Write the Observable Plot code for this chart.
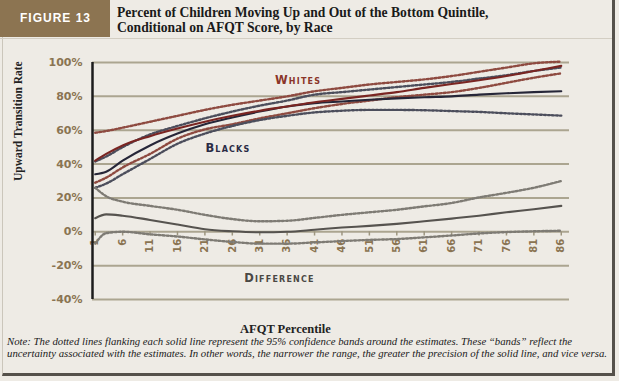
<!DOCTYPE html>
<html>
<head>
<meta charset="utf-8">
<script src="https://cdn.jsdelivr.net/npm/d3@7"></script>
<script src="https://cdn.jsdelivr.net/npm/@observablehq/plot@0.6"></script>
<style>
  body { margin: 0; background: #eeebe5; }
  #wrap { position: relative; width: 619px; height: 381px; background: #eeebe5; overflow: hidden; }
  #frame { position: absolute; left: 2px; top: -3px; width: 609px; height: 376px; border-left: 1px solid #cbc6bb; border-right: 3px solid #55514b; border-bottom: 3px solid #55514b; }
  #fig { position: absolute; left: 0; top: 0; width: 110px; height: 37px; background: #8c7451; color: #fff; font: bold 12px "Liberation Sans", Arial, sans-serif; letter-spacing: 1px; line-height: 37px; text-indent: 20px; }
  #hline { position: absolute; left: 0; top: 38px; width: 612px; height: 1px; background: #d3cec3; }
  #title { position: absolute; left: 117px; top: 6px; font: bold 13.6px "Liberation Serif", serif; line-height: 14.5px; color: #1a1a1a; }
  #chart { position: absolute; left: 0; top: 40px; }
  #xtitle { position: absolute; left: 240px; top: 322px; font: bold 12.5px "Liberation Serif", serif; color: #222; }
  #note { position: absolute; left: 7px; top: 336px; font: italic 10.75px "Liberation Serif", serif; line-height: 11.5px; color: #1a1a1a; white-space: nowrap; }
</style>
</head>
<body>
<div id="wrap">
  <div id="frame"></div>
  <div id="fig">FIGURE 13</div>
  <div id="hline"></div>
  <div id="title">Percent of Children Moving Up and Out of the Bottom Quintile,<br>Conditional on AFQT Score, by Race</div>
  <div id="chart"></div>
  <div id="xtitle">AFQT Percentile</div>
  <div id="note">Note: The dotted lines flanking each solid line represent the 95% confidence bands around the estimates. These “bands” reflect the<br>uncertainty associated with the estimates. In other words, the narrower the range, the greater the precision of the solid line, and vice versa.</div>
</div>
<script>
// AFQT percentile sample points
const afqt = [1, 3, 6, 11, 16, 21, 26, 31, 36, 41, 46, 51, 56, 61, 66, 71, 76, 81, 86];
// Upward transition rates (%)
const whites      = [42, 46, 51, 56.5, 61, 65, 68.5, 71.5, 74, 76.5, 78.5, 80.5, 82.5, 85, 87.3, 89.5, 92, 95, 98];
const whitesUpper = [58.5, 59.5, 61.5, 65, 68.5, 72, 75, 77.5, 80, 83, 85, 87, 88.5, 90, 92, 94.5, 97, 99.5, 100.5];
const whitesLower = [29, 32, 38, 46, 55, 60.5, 63.5, 67, 70, 73, 75.5, 77.5, 79.5, 81, 82.5, 85, 88, 91, 93.6];
const blacks      = [34, 35.5, 42, 51, 58, 63.5, 67.5, 71, 74, 76, 77, 78, 78.8, 79.5, 80, 81, 81.8, 82.5, 83];
const blacksUpper = [41.5, 44.5, 50, 57.5, 62.5, 67, 71, 74.5, 77.5, 81, 82.5, 84, 85.5, 87, 88.5, 90.5, 92.5, 95, 97];
const blacksLower = [26, 28.5, 34, 43, 52, 58, 62.5, 66, 68.5, 70.5, 71.5, 72, 72, 71.8, 71.3, 70.8, 70, 69.3, 68.6];
const difference      = [8, 10.3, 9.5, 7, 4.3, 1.5, 0.3, -0.3, 0, 1.2, 2.5, 3.5, 4.7, 6.2, 7.8, 9.5, 11.5, 13.3, 15.3];
const differenceUpper = [26, 21, 17.8, 15.3, 13, 10, 7.5, 6.2, 6.5, 8.2, 10, 11.5, 13, 15, 17, 20.3, 23, 26, 30];
const differenceLower = [-7, -0.8, 0, -1.5, -2.8, -4.5, -6, -7, -7, -6.3, -5.5, -4.8, -4.3, -3.3, -2.2, -1, -0.2, 0.3, 0.6];

// axes
const xTicks = [1, 6, 11, 16, 21, 26, 31, 36, 41, 46, 51, 56, 61, 66, 71, 76, 81, 86];
const yTicks = [-40, -20, 0, 20, 40, 60, 80, 100];
const xDomain = [0.5, 87.5];
const yDomain = [-40, 100];

// series labels
const labelText = ["Whites", "Blacks", "Difference"];
const labelX = [38, 25.2, 34.6];
const labelY = [89.7, 49.6, -27.4];

const toRows = (vals) => afqt.map((x, i) => ({x, y: vals[i]}));

const series = [
  {vals: whitesUpper, stroke: "#8e4a40", dotted: true},
  {vals: whitesLower, stroke: "#8e4a40", dotted: true},
  {vals: blacksUpper, stroke: "#4c4e5c", dotted: true},
  {vals: blacksLower, stroke: "#4c4e5c", dotted: true},
  {vals: differenceUpper, stroke: "#7e7b74", dotted: true},
  {vals: differenceLower, stroke: "#7e7b74", dotted: true},
  {vals: difference, stroke: "#56534f", dotted: false},
  {vals: blacks, stroke: "#262638", dotted: false},
  {vals: whites, stroke: "#7a2522", dotted: false}
];

const labels = labelText.map((t, i) => ({text: t, x: labelX[i], y: labelY[i]}));
const labelFill = ["#8a3529", "#2a2a44", "#4a4844"];

const tan = "#8a7452";

const chart = Plot.plot({
  width: 619,
  height: 280,
  marginLeft: 92,
  marginRight: 50,
  marginTop: 22,
  marginBottom: 21,
  x: {domain: xDomain, axis: null},
  y: {domain: yDomain, axis: null},
  style: {background: "transparent", overflow: "visible"},
  marks: [
    Plot.ruleY(yTicks, {stroke: "#aba590", strokeWidth: 2}),
    Plot.ruleX(xTicks, {x: d => d, y1: 0, y2: -2.5, stroke: "#9d9680", strokeWidth: 1.5}),
    Plot.text(yTicks, {y: d => d, text: d => d + "%", frameAnchor: "left", textAnchor: "end", dx: -10,
      fill: tan, fontWeight: "bold", fontSize: 11, fontFamily: "DejaVu Sans"}),
    Plot.text(xTicks, {x: d => d, y: 0, text: d => String(d), rotate: -90, textAnchor: "end", dy: 7,
      fill: tan, fontWeight: "bold", fontSize: 10, fontFamily: "DejaVu Sans"}),
    ...series.map(s => Plot.line(toRows(s.vals), {
      x: "x", y: "y", curve: "monotone-x", stroke: s.stroke,
      strokeWidth: s.dotted ? 2.4 : 2.1,
      strokeDasharray: s.dotted ? "2,2" : null
    })),
    Plot.ruleX(xDomain.slice(0, 1), {stroke: "#1c1c1c", strokeWidth: 2.5}),
    Plot.text(labels, {x: "x", y: "y", text: "text", fill: (d, i) => labelFill[i],
      fontWeight: "bold", fontSize: 11.5, fontFamily: "DejaVu Sans", fontVariant: "small-caps"}),
    Plot.text(["Upward Transition Rate"], {text: d => d, frameAnchor: "left", rotate: -90, dx: -74,
      fontWeight: "bold", fontSize: 11.5, fontFamily: "Liberation Serif", fill: "#222"})
  ]
});
// widen the letter spacing of the series labels
d3.select(chart).selectAll("text")
  .filter(function() { return labelText.includes(this.textContent); })
  .style("letter-spacing", "1.2px");
document.getElementById("chart").appendChild(chart);
</script>
</body>
</html>
